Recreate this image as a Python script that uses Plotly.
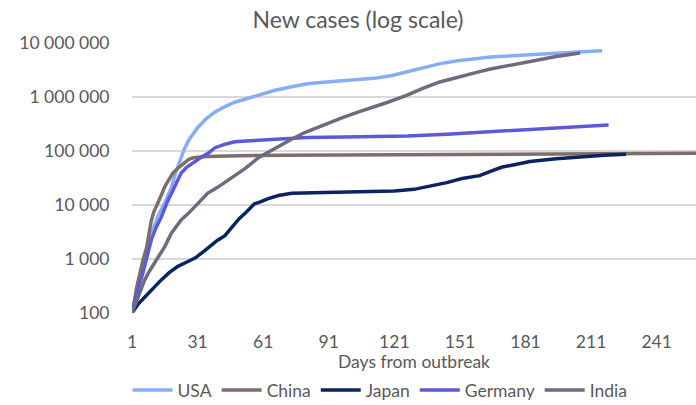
import plotly.graph_objects as go

# Cumulative confirmed cases by day since the 100th case
usa_days = [1, 3, 5, 7, 10, 13, 16, 19, 21, 23, 25, 27, 29, 31, 35, 39, 44, 48, 53, 60, 66, 74, 82,
            90, 98, 106, 113, 120, 127, 134, 142, 150, 158, 165, 175, 185, 195, 205, 216]
usa_cases = [100, 250, 600, 1300, 3000, 6500, 11000, 21000, 40000, 65000, 110000, 160000, 210000,
             270000, 400000, 530000, 680000, 800000, 920000, 1100000, 1320000, 1550000, 1780000,
             1900000, 2040000, 2150000, 2250000, 2500000, 2950000, 3450000, 4150000, 4700000,
             5150000, 5500000, 5800000, 6050000, 6400000, 6800000, 7200000]

china_days = [1, 2, 3, 4.5, 6, 7.5, 8.5, 9.8, 11, 12.9, 14.5, 16, 18, 19.7, 22, 24, 25.8, 27, 29,
              31, 35, 40, 50, 70, 100, 130, 160, 190, 220, 259]
china_cases = [100, 150, 280, 550, 950, 1500, 2800, 5100, 7500, 10700, 15500, 22000, 30000, 39000,
               48000, 56000, 63000, 70000, 75000, 77000, 79000, 80000, 82000, 83000, 84000, 85000,
               86000, 88000, 90000, 91000]

japan_days = [1, 4, 7, 10, 14.4, 18, 22, 26.6, 30, 34, 37.4, 40, 43.5, 46, 48, 50, 53, 55, 57, 60,
              63, 68, 74, 89, 112, 121, 130, 137, 145, 152, 160, 165, 170, 177, 183, 195, 206, 217,
              227]
japan_cases = [100, 150, 200, 270, 410, 560, 730, 900, 1050, 1400, 1800, 2200, 2700, 3600, 4600,
               5600, 7200, 8500, 10500, 11500, 13000, 15000, 16500, 17000, 17800, 18200, 19500,
               22000, 26000, 31000, 35000, 42000, 50000, 57000, 64000, 72000, 78000, 83000, 87000]

germany_days = [1, 3, 6, 8, 9.8, 12, 14.4, 17, 19, 21, 23.5, 26, 30, 33, 36, 39, 44, 48, 53, 59, 70,
                81, 98, 110, 127, 145, 160, 165, 175, 190, 205, 219]
germany_cases = [100, 220, 550, 1200, 2250, 3800, 6000, 11000, 16600, 25000, 39000, 50000, 65000,
                 78000, 92000, 115000, 135000, 148000, 153000, 158000, 170000, 178000, 182000,
                 186000, 190000, 205000, 222000, 230000, 242000, 263000, 283000, 303000]

india_days = [1, 4, 6.8, 9, 11.4, 14, 16, 19, 21, 23.5, 26.8, 29.7, 33, 35.7, 40, 44, 48, 53, 58.8,
              65, 70, 74, 80, 89, 97, 104, 111, 118, 126.6, 134, 141.8, 150, 160, 165, 170, 183, 195,
              206]
india_cases = [100, 200, 410, 600, 840, 1250, 1700, 3000, 3900, 5300, 7000, 9400, 12500, 16600,
               21000, 27000, 34000, 48000, 75000, 105000, 135000, 165000, 220000, 310000, 410000,
               520000, 640000, 800000, 1070000, 1450000, 1900000, 2350000, 2950000, 3300000,
               3600000, 4600000, 5600000, 6500000]

y_tick_vals = [100, 1000, 10000, 100000, 1000000, 10000000]
y_tick_text = ["100", "1 000", "10 000", "100 000", "1 000 000", "10 000 000"]
x_tick_vals = [1, 31, 61, 91, 121, 151, 181, 211, 241]

series = [
    ("USA", usa_days, usa_cases, "#86AEF7"),
    ("China", china_days, china_cases, "#7D6E6A"),
    ("Japan", japan_days, japan_cases, "#0B2360"),
    ("Germany", germany_days, germany_cases, "#5C5AD6"),
    ("India", india_days, india_cases, "#6E6B7E"),
]

FONT = "Lato"
TEXT = "#595959"

fig = go.Figure()
for name, days, cases, color in series:
    fig.add_trace(go.Scatter(
        x=days, y=cases, name=name, mode="lines",
        line=dict(color=color, width=3.5),
    ))

fig.update_layout(
    width=696, height=405,
    margin=dict(l=132, r=0, t=43, b=92, pad=0),
    paper_bgcolor="white", plot_bgcolor="white",
    font=dict(family=FONT, color=TEXT, size=17),
    title=dict(text="New cases (log scale)", x=(358 - 132) / 564, xref="paper",
               xanchor="center", y=1 - 20 / 405, yanchor="middle",
               font=dict(family=FONT, size=23, color=TEXT)),
    showlegend=True,
    legend=dict(orientation="h", x=(380 - 132) / 564, xanchor="center",
                yref="container", y=1 - 390 / 405, yanchor="middle",
                font=dict(family=FONT, size=17.5, color=TEXT),
                itemwidth=40, tracegroupgap=0, bgcolor="rgba(0,0,0,0)"),
    xaxis=dict(
        range=[1, 259], tickvals=x_tick_vals, showgrid=False, zeroline=False,
        showline=False, ticks="outside", ticklen=13, tickcolor="rgba(0,0,0,0)",
        tickfont=dict(family=FONT, size=17.5, color=TEXT), automargin=False,
        title=dict(text="Days from outbreak", standoff=1,
                   font=dict(family=FONT, size=17.5, color=TEXT)),
    ),
    yaxis=dict(
        type="log", range=[2, 7], tickvals=y_tick_vals, ticktext=y_tick_text,
        showgrid=True, gridcolor="#D9D9D9", gridwidth=1.5, zeroline=False,
        showline=False, ticks="outside", ticklen=18, tickcolor="rgba(0,0,0,0)",
        tickfont=dict(family=FONT, size=17.5, color=TEXT), automargin=False,
    ),
)

fig.write_html("out.html")
